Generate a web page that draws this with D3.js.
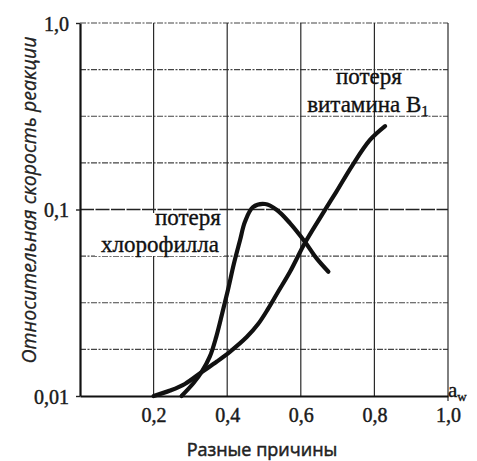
<!DOCTYPE html>
<html>
<head>
<meta charset="utf-8">
<script src="https://cdn.jsdelivr.net/npm/d3@7"></script>
<style>
  body { margin: 0; background: #fff; }
  svg { display: block; }
  .tick text { font-family: "Liberation Serif", "DejaVu Serif", serif; font-size: 20px; fill: #1a1a1a; stroke: #1a1a1a; stroke-width: 0.45px; }
  .lbl { font-family: "Liberation Serif", "DejaVu Serif", serif; fill: #111; stroke: #111; stroke-width: 0.35px; }
</style>
</head>
<body>
<svg id="chart" width="477" height="461"></svg>
<script>
// water activity values (x) and relative reaction rates (y, log scale)
const chlorophyllAw = [0.276, 0.308, 0.331, 0.353, 0.370, 0.386, 0.402, 0.418, 0.435, 0.448, 0.470, 0.503, 0.535, 0.571, 0.611, 0.643, 0.675]
const chlorophyllRate = [0.01, 0.0117, 0.0135, 0.0163, 0.0207, 0.0275, 0.037, 0.051, 0.0686, 0.0857, 0.103, 0.107, 0.0994, 0.0843, 0.0672, 0.0547, 0.0464]

const vitaminAw = [0.2, 0.245, 0.285, 0.331, 0.372, 0.408, 0.453, 0.484, 0.511, 0.538, 0.571, 0.611, 0.652, 0.696, 0.739, 0.788, 0.829]
const vitaminRate = [0.01, 0.0107, 0.0116, 0.01345, 0.0153, 0.0173, 0.0207, 0.0243, 0.0293, 0.0361, 0.0465, 0.0661, 0.09, 0.124, 0.171, 0.236, 0.28]

const xTicks = [0.2, 0.4, 0.6, 0.8, 1.0]
const xTickLabels = ['0,2', '0,4', '0,6', '0,8', '1,0']
const yTicks = [0.01, 0.1, 1]
const yTickLabels = ['0,01', '0,1', '1,0']
// horizontal grid every quarter decade
const yGridExponents = [-1.75, -1.5, -1.25, -1, -0.75, -0.5, -0.25, 0]

const plotLeft = 80
const plotRight = 448
const plotTop = 23
const plotBottom = 396

const svg = d3.select('#chart')

const xScale = d3.scaleLinear()
  .domain([0, 1])
  .range([plotLeft, plotRight])

const yScale = d3.scaleLog()
  .domain([0.01, 1])
  .range([plotBottom, plotTop])

// grid
const grid = svg.append('g')

grid.selectAll('line.h')
  .data(yGridExponents)
  .join('line')
  .attr('class', 'h')
  .attr('x1', plotLeft)
  .attr('x2', plotRight)
  .attr('y1', d => yScale(Math.pow(10, d)))
  .attr('y2', d => yScale(Math.pow(10, d)))
  .attr('stroke', d => d === -1 ? '#222' : '#444')
  .attr('stroke-width', d => d === -1 ? 1.4 : 1.2)
  .attr('stroke-dasharray', d => d === -1 ? '14,1.5' : '6,1.5,2,1.5')

grid.selectAll('line.v')
  .data(xTicks)
  .join('line')
  .attr('class', 'v')
  .attr('x1', d => xScale(d))
  .attr('x2', d => xScale(d))
  .attr('y1', plotTop)
  .attr('y2', d => d === 1 ? plotBottom + 5 : plotBottom)
  .attr('stroke', '#2a2a2a')
  .attr('stroke-width', 1.2)

// axes
const xAxis = d3.axisBottom(xScale)
  .tickValues(xTicks)
  .tickFormat((d, i) => xTickLabels[i])
  .tickSizeInner(0)
  .tickSizeOuter(0)
  .tickPadding(12)

const yAxis = d3.axisLeft(yScale)
  .tickValues(yTicks)
  .tickFormat((d, i) => yTickLabels[i])
  .tickSizeInner(4)
  .tickSizeOuter(0)
  .tickPadding(7)

const gx = svg.append('g')
  .attr('transform', `translate(0, ${plotBottom})`)
  .call(xAxis)

const gy = svg.append('g')
  .attr('transform', `translate(${plotLeft}, 0)`)
  .call(yAxis)

gx.select('.domain').attr('stroke', '#111').attr('stroke-width', 2.2)
gy.select('.domain').attr('stroke', '#111').attr('stroke-width', 2.2)
gy.selectAll('.tick line').attr('stroke', '#222').attr('stroke-width', 1.4)
gy.selectAll('.tick text').attr('dy', '0.35em')

// white box behind the chlorophyll label
svg.append('rect')
  .attr('x', 95)
  .attr('y', 213)
  .attr('width', 129)
  .attr('height', 43)
  .attr('fill', '#fff')

// curves
const line = d3.line()
  .x(d => xScale(d[0]))
  .y(d => yScale(d[1]))
  .curve(d3.curveCatmullRom.alpha(0.5))

svg.append('path')
  .datum(d3.zip(chlorophyllAw, chlorophyllRate))
  .attr('d', line)
  .attr('fill', 'none')
  .attr('stroke', '#111')
  .attr('stroke-width', 4.2)
  .attr('stroke-linecap', 'round')

svg.append('path')
  .datum(d3.zip(vitaminAw, vitaminRate))
  .attr('d', line)
  .attr('fill', 'none')
  .attr('stroke', '#111')
  .attr('stroke-width', 4.2)
  .attr('stroke-linecap', 'round')

// labels
svg.append('text')
  .attr('class', 'lbl')
  .attr('x', 188)
  .attr('y', 225)
  .attr('text-anchor', 'middle')
  .attr('font-size', 23)
  .text('потеря')

svg.append('text')
  .attr('class', 'lbl')
  .attr('x', 160)
  .attr('y', 252)
  .attr('text-anchor', 'middle')
  .attr('font-size', 23)
  .text('хлорофилла')

svg.append('text')
  .attr('class', 'lbl')
  .attr('x', 369)
  .attr('y', 84)
  .attr('text-anchor', 'middle')
  .attr('font-size', 23)
  .text('потеря')

const vit = svg.append('text')
  .attr('class', 'lbl')
  .attr('x', 368)
  .attr('y', 112)
  .attr('text-anchor', 'middle')
  .attr('font-size', 23)
vit.append('tspan').text('витамина B')
vit.append('tspan').attr('dy', 4).attr('font-size', 15).text('1')

const aw = svg.append('text')
  .attr('class', 'lbl')
  .attr('x', 448)
  .attr('y', 397)
  .attr('font-size', 21)
aw.append('tspan').text('a')
aw.append('tspan').attr('dy', 4).attr('font-size', 13).text('w')

svg.append('text')
  .attr('x', 262)
  .attr('y', 456)
  .attr('text-anchor', 'middle')
  .attr('font-family', '"Open Sans", sans-serif')
  .attr('font-size', 18)
  .attr('fill', '#222')
  .attr('stroke', '#222')
  .attr('stroke-width', 0.5)
  .text('Разные причины')

svg.append('text')
  .attr('transform', `translate(36, 200) rotate(-90)`)
  .attr('text-anchor', 'middle')
  .attr('font-family', '"Open Sans", sans-serif')
  .attr('font-style', 'italic')
  .attr('font-size', 19.5)
  .attr('fill', '#222')
  .attr('stroke', '#222')
  .attr('stroke-width', 0.3)
  .text('Относительная скорость реакции')
</script>
</body>
</html>
